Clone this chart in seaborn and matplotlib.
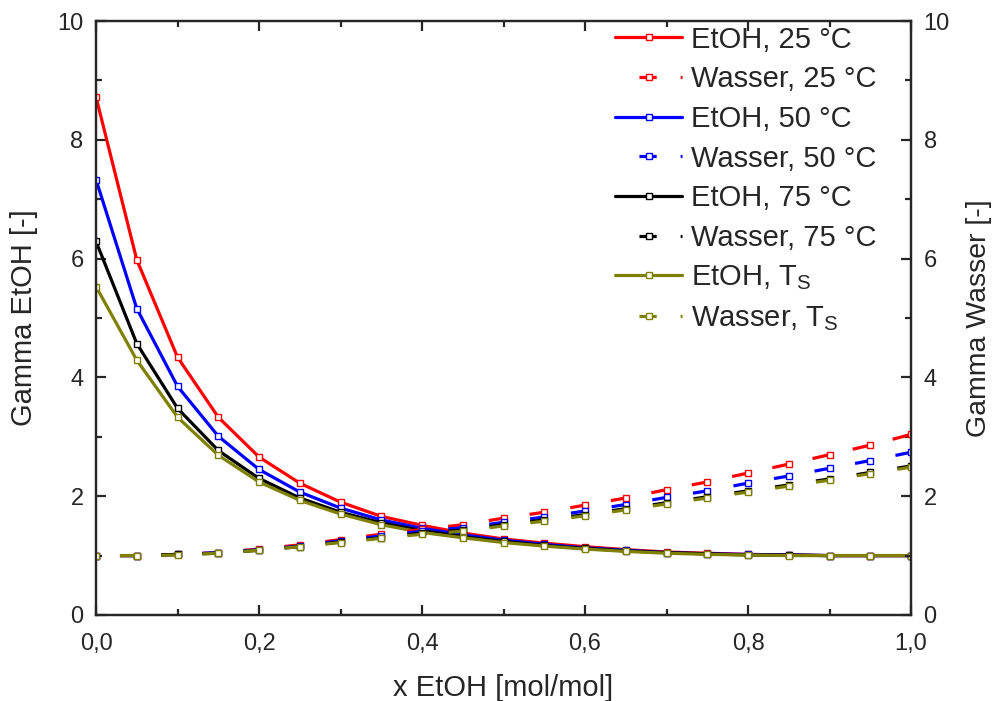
import numpy as np
import pandas as pd
import seaborn as sns
import matplotlib
matplotlib.use("Agg")
import matplotlib.pyplot as plt
from matplotlib.ticker import MultipleLocator, FuncFormatter

# -- * data
x_etoh = [0.0, 0.05, 0.1, 0.15, 0.2, 0.25, 0.3, 0.35, 0.4, 0.45, 0.5,
          0.55, 0.6, 0.65, 0.7, 0.75, 0.8, 0.85, 0.9, 0.95, 1.0]

etoh_25 = [8.72, 5.98, 4.34, 3.33, 2.66, 2.22, 1.90, 1.66, 1.51, 1.38, 1.28,
           1.21, 1.15, 1.10, 1.06, 1.04, 1.02, 1.01, 1.00, 1.00, 1.00]
etoh_50 = [7.33, 5.16, 3.85, 3.01, 2.45, 2.07, 1.80, 1.60, 1.46, 1.35, 1.26,
           1.19, 1.13, 1.09, 1.05, 1.03, 1.02, 1.01, 1.00, 1.00, 1.00]
etoh_75 = [6.29, 4.57, 3.48, 2.77, 2.30, 1.97, 1.73, 1.55, 1.42, 1.32, 1.24,
           1.17, 1.12, 1.08, 1.05, 1.03, 1.01, 1.01, 1.00, 1.00, 1.00]
etoh_ts = [5.53, 4.29, 3.33, 2.69, 2.24, 1.93, 1.70, 1.52, 1.39, 1.30, 1.22,
           1.16, 1.11, 1.07, 1.04, 1.02, 1.01, 1.00, 1.00, 1.00, 1.00]

wasser_25 = [1.00, 1.00, 1.02, 1.05, 1.11, 1.18, 1.27, 1.36, 1.44, 1.52, 1.63,
             1.73, 1.85, 1.97, 2.11, 2.24, 2.39, 2.54, 2.70, 2.86, 3.04]
wasser_50 = [1.00, 1.00, 1.02, 1.05, 1.10, 1.16, 1.25, 1.33, 1.41, 1.47, 1.56,
             1.65, 1.75, 1.86, 1.98, 2.09, 2.22, 2.34, 2.47, 2.60, 2.74]
wasser_75 = [1.00, 1.00, 1.02, 1.04, 1.09, 1.15, 1.23, 1.30, 1.38, 1.43, 1.52,
             1.60, 1.69, 1.79, 1.89, 1.99, 2.09, 2.19, 2.29, 2.40, 2.51]
wasser_ts = [1.00, 1.00, 1.01, 1.04, 1.09, 1.15, 1.22, 1.29, 1.36, 1.41, 1.50,
             1.58, 1.67, 1.77, 1.87, 1.97, 2.07, 2.17, 2.27, 2.38, 2.49]

labels_etoh = ["EtOH, 25 °C", "EtOH, 50 °C", "EtOH, 75 °C", r"EtOH, $\mathregular{T_S}$"]
labels_wasser = ["Wasser, 25 °C", "Wasser, 50 °C", "Wasser, 75 °C", r"Wasser, $\mathregular{T_S}$"]
colors = ["#ff0000", "#0000ff", "#000000", "#808000"]

sns.set_style("ticks")
plt.rcParams["font.family"] = ["Liberation Sans", "DejaVu Sans"]
plt.rcParams["axes.linewidth"] = 1.6

fig = plt.figure(figsize=(9.97, 7.01), dpi=100)
ax = fig.add_axes([0.0963, 0.1227, 0.8175, 0.8473])
ax2 = ax.twinx()

lw = 2.3
# dash pattern tuned so one short dash sits in front of each marker
wasser_ls = (5.4, (5.4, 7.5))

handles = []
for ye, yw, le, lwas, c in zip([etoh_25, etoh_50, etoh_75, etoh_ts],
                               [wasser_25, wasser_50, wasser_75, wasser_ts],
                               labels_etoh, labels_wasser, colors):
    df_e = pd.DataFrame({"x": x_etoh, "y": ye})
    df_w = pd.DataFrame({"x": x_etoh, "y": yw})
    sns.lineplot(data=df_e, x="x", y="y", ax=ax, color=c, lw=lw, marker="s",
                 markersize=4.5, markerfacecolor="white", markeredgecolor=c,
                 markeredgewidth=1.0, label=le)
    sns.lineplot(data=df_w, x="x", y="y", ax=ax2, color=c, lw=lw, marker="s",
                 markersize=4.5, markerfacecolor="white", markeredgecolor=c,
                 markeredgewidth=1.0, linestyle=wasser_ls, label=lwas)
    handles.append(ax.get_lines()[-1])
    handles.append(ax2.get_lines()[-1])

for a in (ax, ax2):
    if a.get_legend() is not None:
        a.get_legend().remove()

ax.set_xlim(0, 1.0)
ax.set_ylim(0, 10)
ax2.set_ylim(0, 10)

ax.xaxis.set_major_locator(MultipleLocator(0.2))
ax.xaxis.set_minor_locator(MultipleLocator(0.1))
ax.xaxis.set_major_formatter(FuncFormatter(lambda v, p: "{:.1f}".format(v).replace(".", ",")))
for a in (ax, ax2):
    a.yaxis.set_major_locator(MultipleLocator(2))
    a.yaxis.set_minor_locator(MultipleLocator(1))
    a.yaxis.set_major_formatter(FuncFormatter(lambda v, p: "{:d}".format(int(round(v)))))

ax.tick_params(which="both", direction="in", top=True, right=False, labelsize=17, width=1.6)
ax.tick_params(which="major", length=7.5, pad=9)
ax.tick_params(axis="x", which="major", pad=13)
ax.tick_params(which="minor", length=4.5)
ax2.tick_params(which="both", direction="in", labelsize=17, width=1.6)
ax2.tick_params(which="major", length=7.5, pad=9)
ax2.tick_params(which="minor", length=4.5)
for s in ax.spines.values():
    s.set_visible(True)

ax.set_xlabel("x EtOH [mol/mol]", fontsize=21, labelpad=14)
ax.set_ylabel("Gamma EtOH [-]", fontsize=21, labelpad=14)
ax2.set_ylabel("Gamma Wasser [-]", fontsize=20.5, labelpad=12)

ax2.legend(handles=handles, labels=[h.get_label() for h in handles],
           loc="upper right", bbox_to_anchor=(0.972, 1.012), frameon=False,
           fontsize=21, handlelength=2.3, handletextpad=0.3,
           labelspacing=0.4, borderaxespad=0.0)

plt.savefig("out.png", dpi=100)
